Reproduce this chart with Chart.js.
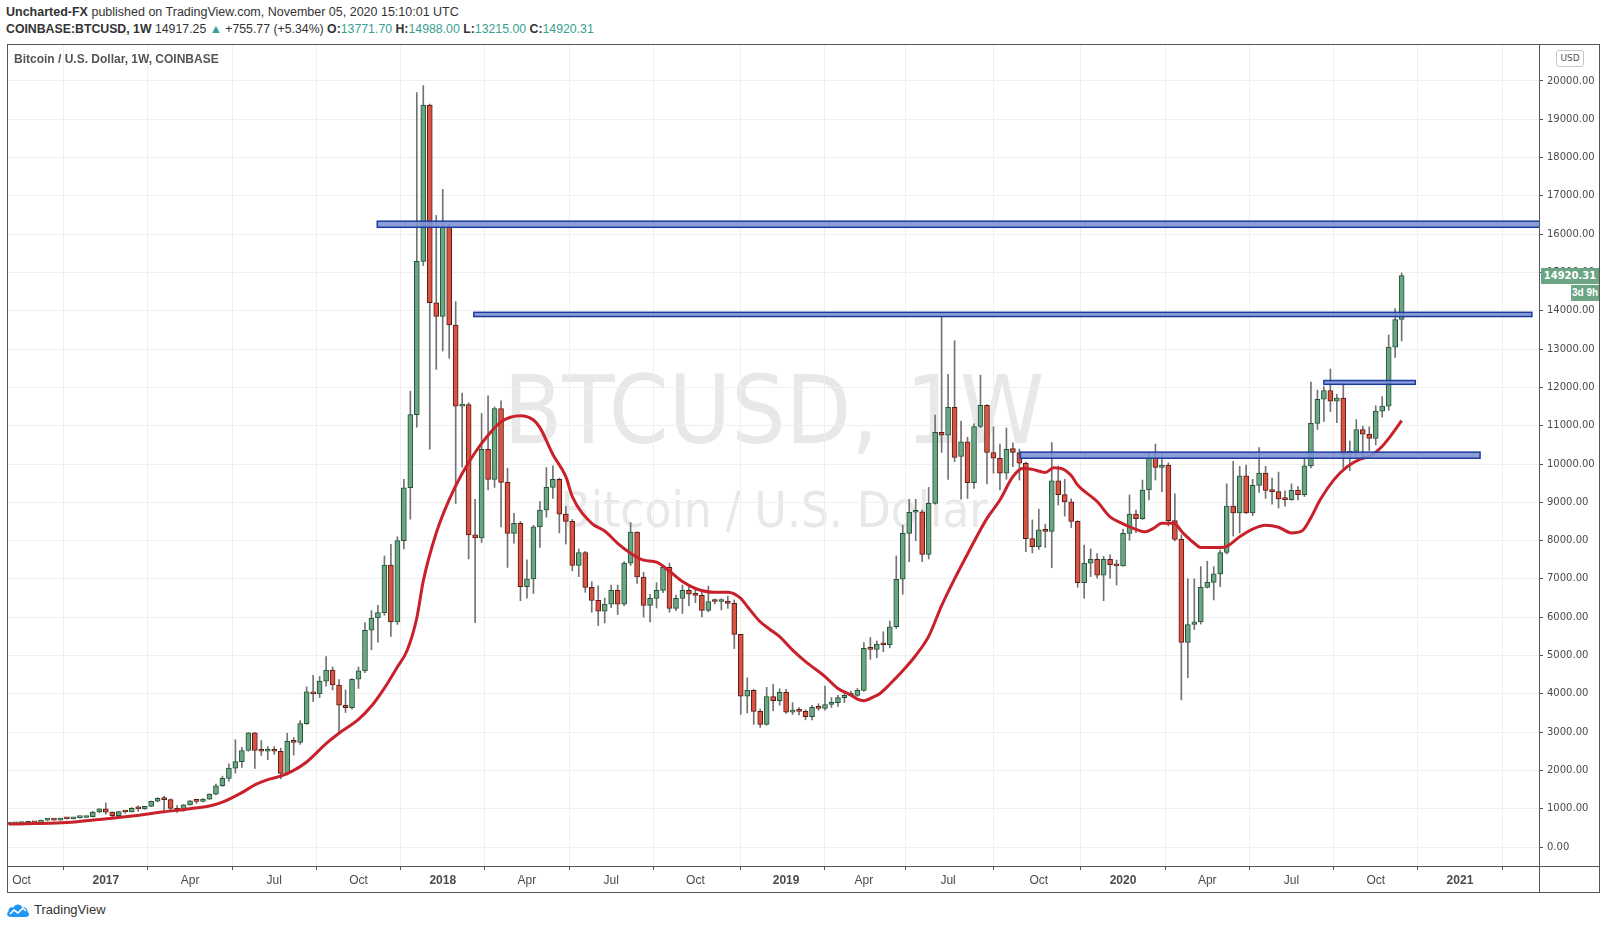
<!DOCTYPE html>
<html lang="en">
<head>
<meta charset="utf-8">
<title>COINBASE:BTCUSD, 1W</title>
<script src="https://cdn.jsdelivr.net/npm/chart.js@4.4.1/dist/chart.umd.min.js"></script>
<style>
  html, body { margin: 0; padding: 0; background: #ffffff; }
  body { position: relative; width: 1607px; height: 930px; overflow: hidden;
         font-family: "Liberation Sans", Arial, sans-serif; color: #333; }
  #chart { position: absolute; left: 0; top: 0; z-index: 1; }
  .abs { position: absolute; white-space: nowrap; }
  #head1 { left: 6px; top: 4px; font-size: 12.5px; line-height: 16px; }
  #head2 { left: 6px; top: 21px; font-size: 12.3px; line-height: 16px; }
  .b { font-weight: bold; }
  .v { color: #3a9f91; }
  #legend { left: 14px; top: 52px; font-size: 12px; font-weight: bold; color: #555; z-index: 2; }
  .wm { z-index: 0; color: #e8e8e8; font-family: "Liberation Sans Narrow", "DejaVu Sans Condensed", sans-serif;
        transform: translate(-50%, -50%); line-height: 1; }
  #wm1 { left: 774px; top: 410px; font-size: 95px; }
  #wm2 { left: 774px; top: 510px; font-size: 49px; }
  #usd { left: 1556px; top: 50px; width: 26px; height: 15px; border: 1px solid #c8c8c8; border-radius: 3px;
         font: 9px "DejaVu Sans", sans-serif; line-height: 15px; text-align: center; color: #555; z-index: 2; background: #fff; }
  .tag { height: 16px; background: #6ba583; color: #fff; font: bold 10px "DejaVu Sans", sans-serif;
         line-height: 16px; text-align: center; z-index: 2; }
  #last { left: 1541px; width: 58px; }
  #timer { left: 1571px; width: 28px; font: bold 10px "Liberation Sans", sans-serif; line-height: 16px; }
  #logo { left: 6px; top: 902px; font-size: 13px; line-height: 16px; display: flex; align-items: center; gap: 4px; }
</style>
</head>
<body>
<div id="head1" class="abs"><span class="b">Uncharted-FX</span> published on TradingView.com, November 05, 2020 15:10:01 UTC</div>
<div id="head2" class="abs"><span class="b">COINBASE:BTCUSD, 1W</span> 14917.25 <span class="v">▲</span> +755.77 (+5.34%) <span class="b">O:</span><span class="v">13771.70</span> <span class="b">H:</span><span class="v">14988.00</span> <span class="b">L:</span><span class="v">13215.00</span> <span class="b">C:</span><span class="v">14920.31</span></div>
<div id="wm1" class="abs wm">BTCUSD, 1W</div>
<div id="wm2" class="abs wm">Bitcoin / U.S. Dollar</div>
<canvas id="chart" width="1607" height="930"></canvas>
<div id="legend" class="abs">Bitcoin / U.S. Dollar, 1W, COINBASE</div>
<div id="usd" class="abs">USD</div>
<div id="last" class="abs tag"></div>
<div id="timer" class="abs tag">3d 9h</div>
<div id="logo" class="abs"><svg width="24" height="16" viewBox="0 0 24 16"><path d="M5 15 C1 15 0 11 2.5 9.5 C2 6 5 4.5 7.5 5.5 C9 2 14 1.5 16 5 C19.5 4.5 22 7 21.5 10 C24 11 23.5 15 20 15 Z" fill="#2196f3"/><polyline points="4,12 8,8 12,11 17,6 20,9" fill="none" stroke="#fff" stroke-width="1.6"/></svg><span>TradingView</span></div>
<script>
// weekly candles, first one is the week of 19 Sep 2016 (index -2), last is 2 Nov 2020
const firstWeek = -2;

const opens = [
  600,606,610,616,638,632,700,705,700,738,735,768,770,792,
  915,995,910,820,925,915,1010,995,1060,1195,1268,1235,1010,
  960,1100,1205,1190,1250,1380,1600,1790,2060,2230,2520,2980,2520,
  2500,2520,2500,1920,2760,2730,3220,4050,4000,4330,4620,4230,3700,
  3640,4380,4600,5660,5980,6120,7360,5880,8000,9380,11290,15290,19370,
  14210,13850,16180,13630,11510,11550,8150,8070,10380,9600,11450,9520,8190,
  8450,6800,7000,8360,8800,9390,9600,8690,8500,7350,7690,6780,6440,
  6160,6340,6700,6340,7410,8220,7050,6310,6490,6700,7300,6230,6490,
  6700,6600,6570,6180,6430,6410,6410,6360,5550,3940,4090,3540,3200,
  3930,3820,4040,3520,3560,3540,3400,3650,3620,3720,3770,3900,3960,
  3960,4090,5190,5160,5290,5280,5750,6990,8190,8740,8750,7640,8970,
  10830,10750,11480,10200,10580,9510,10980,11530,10300,10150,9760,10400,10300,
  10020,8050,7840,8280,8240,9560,9200,9010,8500,6900,7410,7510,7100,
  7510,7370,7340,8190,8690,8570,9320,10170,9910,9970,8520,8030,5340,
  5810,5880,6780,6910,7130,7690,8900,8720,9690,8720,9440,9760,9330,
  9280,9090,9070,9320,9200,9950,11060,11690,11920,11640,11720,10250,10330,
  10900,10780,10670,11380,11510,13050,13771.70
];
const highs = [
  612,612,620,641,642,705,745,720,752,755,775,775,800,930,
  1000,1150,920,935,930,1030,1075,1065,1200,1290,1330,1260,1080,
  1110,1215,1225,1265,1390,1640,1850,2170,2800,2600,2990,2990,2780,
  2620,2620,2580,2970,2860,3300,4180,4480,4450,4970,4700,4370,4100,
  4400,4700,5860,6170,6310,7600,7900,8100,9600,11900,19700,19880,19400,
  16490,17170,16270,14240,11850,11600,9080,11320,11780,11490,11650,9890,8710,
  8500,7500,8400,9020,9910,9950,9630,8890,8550,7780,7720,6930,6820,
  6500,6840,6840,7450,8470,8230,7170,6600,6900,7360,7410,6580,6840,
  6790,6710,6660,6810,6470,6480,6550,6450,5550,4420,4120,3600,4170,
  4250,4130,4120,3770,3640,3580,3700,3740,4200,3900,3960,4050,4070,
  4140,5340,5470,5380,5620,5900,7600,8400,9080,9080,8800,9390,11280,
  13860,12340,13220,11120,10700,11050,12320,11550,10970,10520,10940,10550,10390,
  10050,8540,8820,8430,10560,9950,9600,9090,8520,7880,7780,7660,7590,
  7630,7490,8300,9190,8800,9580,10280,10520,10300,10030,9220,8150,7000,
  7000,7320,7460,7320,7750,9480,10070,9940,9970,9600,10430,9940,9630,
  9790,9300,9480,9410,10170,12140,11930,12020,12480,11820,12100,10600,11160,
  10990,10970,11520,11760,13370,14060,14988.00
];
const lows = [
  593,600,606,612,625,630,680,695,695,725,730,755,765,785,
  890,860,760,815,880,910,930,980,1050,1180,960,950,900,
  930,1090,1140,1180,1240,1360,1580,1720,1930,2080,2500,2050,2390,
  2280,2420,1780,1880,2400,2680,3200,3800,3900,4200,4100,2980,3510,
  3600,4140,4550,5150,5350,6050,5500,5810,7780,8560,10960,15180,10390,
  12470,12950,12760,8970,9920,7520,5860,7950,9320,9390,8360,7300,7930,
  6430,6500,6620,7820,8610,9100,8200,7910,7210,7060,6650,6130,5780,
  5850,6250,6070,6300,7350,6880,6000,5880,6240,6640,6130,6170,6100,
  6300,6380,6010,6140,6350,6190,6230,5180,3460,3500,3200,3120,3180,
  3560,3700,3490,3460,3450,3320,3320,3570,3570,3640,3670,3770,3930,
  3930,4060,4900,4940,5100,5200,5700,6600,7450,8000,7450,7520,8950,
  10300,9600,10060,9080,9100,9360,10950,9480,9760,9320,9600,9930,9580,
  7710,7680,7770,7820,7290,8930,8640,8340,6780,6500,7060,7020,6430,
  7020,6840,7330,8010,8210,8550,9060,9580,9280,8380,7990,3840,4420,
  5680,5820,6760,6450,6800,7650,8120,8200,8700,8650,9260,9100,8950,
  8850,8900,9050,9060,9150,9900,10900,11110,11370,11080,9870,9830,10230,
  10120,10350,10500,11220,11400,12780,13215.00
];
const closes = [
  606,610,616,638,632,700,705,700,738,735,768,770,792,915,
  995,910,820,925,915,1010,995,1060,1195,1268,1235,1010,960,
  1100,1205,1190,1250,1380,1600,1790,2060,2230,2520,2980,2520,2500,
  2520,2500,1920,2760,2730,3220,4050,4000,4330,4620,4230,3700,3640,
  4380,4600,5660,5980,6120,7360,5880,8000,9380,11290,15290,19370,14210,
  13850,16180,13630,11510,11550,8150,8070,10380,9600,11450,9520,8190,8450,
  6800,7000,8360,8800,9390,9600,8690,8500,7350,7690,6780,6440,6160,
  6340,6700,6340,7410,8220,7050,6310,6490,6700,7300,6230,6490,6700,
  6600,6570,6180,6410,6410,6420,6360,5550,3940,4090,3540,3200,3930,
  3820,4040,3520,3540,3540,3400,3650,3620,3720,3780,3900,3960,3990,
  4090,5190,5160,5290,5280,5750,6990,8190,8740,8750,7640,8970,10830,
  10750,11480,10170,10580,9510,10980,11530,10300,10150,9760,10380,10300,10020,
  8050,7840,8280,8240,9560,9200,9010,8500,6900,7410,7510,7100,7510,
  7370,7340,8190,8690,8570,9320,10170,9910,9970,8520,8030,5340,5810,
  5880,6780,6910,7130,7690,8900,8720,9690,8720,9440,9760,9310,9280,
  9090,9070,9310,9200,9950,11060,11690,11920,11640,11720,10250,10330,10900,
  10780,10670,11380,11510,13050,13770,14920.31
];

// red moving average (week index -> price)
const maWeeks = [-2,2,7,12,17,22,26,29,31,34,36,38,40,42,44,47,49,52,54,56,
  58,59.5,61,62,64,66,68,70,72,74,77,79,80,82,84,85,88,90,92,94,
  96,98,100,102,104,107,109,111,112,114,115.5,117,119,121,124,126,128,129,130,131.5,
  132.5,134,136,138,140,142,144,146,149,151,153,154.6,156,158,159.3,160.3,162,163,166,168,
  169.6,171.6,173.4,174.7,176,177.8,179.3,181,182,185,186,188,190,192,194,196,197.6,199,200.4,202.5,
  204.6,206.6,208.2,209.7,211.2,213];
const maValues = [600,612,640,720,810,920,1000,1070,1170,1420,1620,1760,1850,2000,2220,2700,2970,3330,3680,4150,
  4700,5130,5980,6950,8200,9070,9750,10300,10750,11100,11260,11150,10950,10250,9670,9150,8450,8250,7930,7670,
  7490,7440,7200,6930,6750,6650,6650,6490,6280,5880,5680,5490,5140,4840,4450,4140,3970,3860,3820,3920,
  4010,4250,4600,5000,5500,6300,7000,7650,8580,9060,9670,9890,9860,9780,9900,9890,9700,9450,9020,8620,
  8470,8320,8230,8320,8450,8450,8190,7930,7820,7820,7850,8100,8300,8400,8350,8200,8250,8600,9060,9580,
  9930,10130,10210,10410,10710,11130];

// blue horizontal zones drawn on the chart
const zoneStart = [54.9, 69.8, 201, 154.1];
const zoneEnd   = [240, 233.1, 215.1, 225.1];
const zoneLow   = [16180, 13850, 12080, 10150];
const zoneHigh  = [16340, 13960, 12180, 10310];

// time axis labels (week index of first bar of the month)
const tickWeeks  = [0,13,26,39,52,65,78,91,104,118,130,143,157,170,183,196,209,222];
const tickLabels = ['Oct','2017','Apr','Jul','Oct','2018','Apr','Jul','Oct','2019','Apr','Jul','Oct','2020','Apr','Jul','Oct','2021'];

const priceTicks = [0,1000,2000,3000,4000,5000,6000,7000,8000,9000,10000,
  11000,12000,13000,14000,15000,16000,17000,18000,19000,20000];

const UP_FILL = '#6ba583', UP_LINE = '#225437';
const DOWN_FILL = '#d75442', DOWN_LINE = '#5b1a13';
const WICK = '#737375';
const FRAME = '#555555';

const weeks = opens.map((_, i) => firstWeek + i);
const bodyData = weeks.map((w, i) => ({ x: w, y: [opens[i], closes[i]] }));
const wickData = weeks.map((w, i) => ({ x: w, y: [lows[i], highs[i]] }));
const isUp = weeks.map((_, i) => closes[i] >= opens[i]);
const maData = maWeeks.map((w, i) => ({ x: w, y: maValues[i] }));

const zonesAndFrame = {
  id: 'zonesAndFrame',
  afterDatasetsDraw(chart) {
    const { ctx, chartArea: a, scales: { x, y } } = chart;
    ctx.save();
    ctx.beginPath();
    ctx.rect(a.left, a.top, a.right - a.left, a.bottom - a.top);
    ctx.clip();
    for (let i = 0; i < zoneStart.length; i++) {
      const x0 = x.getPixelForValue(zoneStart[i]);
      const x1 = x.getPixelForValue(zoneEnd[i]);
      const y0 = y.getPixelForValue(zoneHigh[i]);
      const y1 = y.getPixelForValue(zoneLow[i]);
      ctx.fillStyle = 'rgba(128,146,212,0.9)';
      ctx.fillRect(x0, y0, x1 - x0, y1 - y0);
      ctx.strokeStyle = '#1c3c9e';
      ctx.lineWidth = 1.5;
      ctx.strokeRect(x0, y0, x1 - x0, y1 - y0);
    }
    ctx.restore();
  },
  afterDraw(chart) {
    const { ctx, chartArea: a } = chart;
    ctx.save();
    ctx.strokeStyle = FRAME;
    ctx.lineWidth = 1;
    ctx.strokeRect(7.5, 44.5, 1592, 848);
    ctx.beginPath();
    ctx.moveTo(a.right + 0.5, 44); ctx.lineTo(a.right + 0.5, 893);
    ctx.moveTo(7, a.bottom + 0.5); ctx.lineTo(1600, a.bottom + 0.5);
    ctx.stroke();
    ctx.restore();
  }
};

const chart = new Chart(document.getElementById('chart'), {
  type: 'bar',
  data: {
    datasets: [
      {
        type: 'line',
        label: 'MA',
        data: maData,
        borderColor: '#c8212a',
        borderWidth: 3,
        pointRadius: 0,
        tension: 0.4,
        cubicInterpolationMode: 'monotone',
        order: 0
      },
      {
        label: 'body',
        data: bodyData,
        backgroundColor: isUp.map(u => u ? UP_FILL : DOWN_FILL),
        borderColor: isUp.map(u => u ? UP_LINE : DOWN_LINE),
        borderWidth: 1,
        borderSkipped: false,
        barThickness: 5,
        minBarLength: 2,
        grouped: false,
        order: 1
      },
      {
        label: 'wick',
        data: wickData,
        backgroundColor: WICK,
        barThickness: 1,
        grouped: false,
        order: 2
      }
    ]
  },
  options: {
    responsive: false,
    animation: false,
    events: [],
    layout: { padding: { left: 7, top: 44, right: 7, bottom: 37 } },
    plugins: { legend: { display: false }, tooltip: { enabled: false } },
    scales: {
      x: {
        type: 'linear',
        min: -2.25,
        max: 234.2,
        offset: false,
        afterBuildTicks: (s) => { s.ticks = tickWeeks.map(v => ({ value: v })); },
        afterFit: (s) => { s.height = 27; },
        ticks: {
          autoSkip: false,
          maxRotation: 0,
          padding: 3,
          color: '#4a4a4a',
          font: (c) => ({
            family: "'Liberation Sans Narrow', 'Liberation Sans', sans-serif",
            size: 12,
            weight: c.tick && /^\d{4}$/.test(tickLabels[tickWeeks.indexOf(c.tick.value)]) ? 'bold' : 'normal'
          }),
          callback: (v) => tickLabels[tickWeeks.indexOf(v)]
        },
        grid: { color: '#efefef', tickColor: FRAME, tickLength: 4 },
        border: { color: FRAME }
      },
      y: {
        position: 'right',
        min: -496,
        max: 20966,
        afterBuildTicks: (s) => { s.ticks = priceTicks.map(v => ({ value: v })); },
        afterFit: (s) => { s.width = 61; },
        ticks: {
          padding: 4,
          color: '#4a4a4a',
          font: { family: "'DejaVu Sans', sans-serif", size: 10 },
          callback: (v) => v.toFixed(2)
        },
        grid: { color: '#efefef', tickColor: FRAME, tickLength: 4 },
        border: { color: FRAME }
      }
    }
  },
  plugins: [zonesAndFrame]
});

// last price tag on the price axis
const lastClose = closes[closes.length - 1];
const tagY = chart.scales.y.getPixelForValue(lastClose);
const lastTag = document.getElementById('last');
lastTag.textContent = lastClose.toFixed(2);
lastTag.style.top = (tagY - 8) + 'px';
document.getElementById('timer').style.top = (tagY + 9) + 'px';
</script>
</body>
</html>
